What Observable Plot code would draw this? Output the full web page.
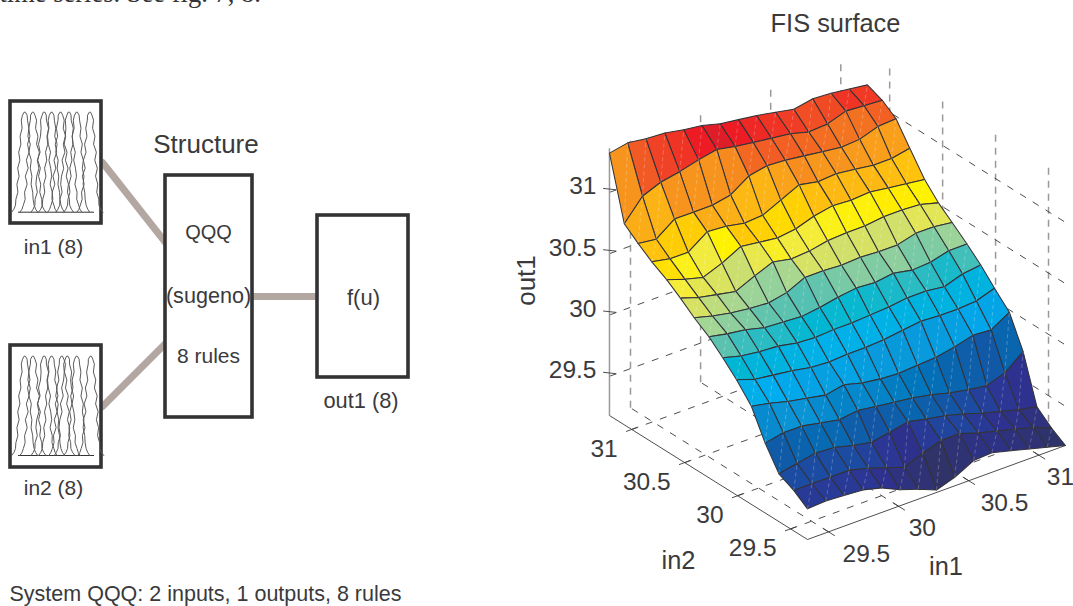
<!DOCTYPE html>
<html>
<head>
<meta charset="utf-8">
<style>html,body{margin:0;padding:0;background:#fff}svg{display:block}</style>
<script src="https://cdn.jsdelivr.net/npm/d3@7"></script>
<script src="https://cdn.jsdelivr.net/npm/@observablehq/plot@0.6"></script>
</head>
<body>
<div id="chart"></div>
<script>
// grid of the surface
const in1Grid = [29.35,29.48,29.61,29.745,29.88,30.01,30.14,30.27,30.40,30.535,30.665,30.80,30.93,31.06,31.19];
const in2Grid = [29.34,29.47,29.61,29.74,29.87,30.01,30.14,30.27,30.41,30.54,30.67,30.81,30.94,31.07,31.21];
// out1 values, one row per in2 grid value
const out0  = [29.43,29.44,29.43,29.42,29.38,29.31,29.26,29.20,29.25,29.33,29.34,29.30,29.26,29.22,29.18];
const out1  = [29.51,29.51,29.51,29.51,29.47,29.42,29.37,29.43,29.48,29.48,29.43,29.39,29.35,29.31,29.25];
const out2  = [29.57,29.60,29.63,29.62,29.58,29.55,29.58,29.61,29.58,29.55,29.51,29.46,29.42,29.38,29.35];
const out3  = [29.75,29.78,29.78,29.75,29.72,29.74,29.72,29.70,29.68,29.65,29.61,29.58,29.56,29.61,29.73];
const out4  = [29.98,29.95,29.91,29.88,29.85,29.88,29.84,29.82,29.81,29.82,29.83,29.86,29.90,29.89,29.98];
const out5  = [30.12,30.07,30.05,30.03,30.00,29.99,30.00,30.00,30.01,30.03,30.05,30.04,30.04,30.05,30.10];
const out6  = [30.23,30.19,30.17,30.16,30.13,30.12,30.13,30.13,30.14,30.15,30.17,30.17,30.15,30.20,30.22];
const out7  = [30.33,30.30,30.28,30.24,30.23,30.22,30.24,30.27,30.29,30.28,30.30,30.27,30.28,30.32,30.32];
const out8  = [30.41,30.37,30.34,30.32,30.31,30.34,30.41,30.41,30.40,30.41,30.40,30.40,30.44,30.44,30.42];
const out9  = [30.50,30.45,30.42,30.39,30.46,30.52,30.49,30.50,30.53,30.54,30.54,30.56,30.56,30.55,30.51];
const out10 = [30.58,30.53,30.49,30.55,30.63,30.61,30.59,30.61,30.66,30.69,30.68,30.69,30.67,30.65,30.63];
const out11 = [30.65,30.62,30.62,30.73,30.72,30.69,30.70,30.77,30.84,30.81,30.82,30.80,30.78,30.78,30.81];
const out12 = [30.73,30.71,30.82,30.82,30.82,30.85,30.95,30.98,30.97,30.95,30.93,30.91,30.92,30.97,30.98];
const out13 = [30.82,30.99,31.05,31.08,31.12,31.15,31.12,31.10,31.08,31.06,31.02,31.03,31.08,31.07,31.06];
const out14 = [31.32,31.35,31.33,31.32,31.29,31.27,31.23,31.21,31.19,31.16,31.13,31.16,31.15,31.13,31.11];
const outRows = [out0,out1,out2,out3,out4,out5,out6,out7,out8,out9,out10,out11,out12,out13,out14];

const in1Ticks = [29.5,30,30.5,31];
const in2Ticks = [29.5,30,30.5,31];
const outTicks = [29.5,30,30.5,31];
const in1Range = [29.35,31.19];
const in2Range = [29.34,31.21];
const outRange = [29.18,31.36];

// colour ramp read from the facets
const colorStops = [29.20,29.40,29.50,29.57,29.68,29.78,29.95,30.12,30.23,30.33,30.41,30.50,30.55,30.60,30.65,30.72,30.82,30.99,31.07,31.12,31.16];
const colorRamp  = ["#2f3368","#2e3192","#1e4aa0","#0f5ba8","#0077bc","#0a94d6","#00aeef","#00b6d3","#5cc2b0","#a3d595","#d7e264","#f5ec3a","#fff200","#ffd400","#ffc20e","#fbb017","#f7941d","#f15a24","#f03a26","#ed1c24","#d91e2a"];

// membership-function peaks in the two icons
const in1Peaks = [29.50,29.70,29.97,30.15,30.37,30.57,30.76,31.08];
const in2Peaks = [29.50,29.70,29.97,30.15,30.40,30.53,30.76,31.10];
const mfHeights = [1,.97,.92,.84,.76,.68,.6,.52,.44,.36,.28,.2,.13,.07,.03,0];
const mfLeftA  = [-0.6,-2.2,-3.4,-2.6,-4.6,-3.8,-6.0,-4.8,-7.0,-5.6,-7.8,-6.8,-8.8,-9.2,-10.8,-13];
const mfRightA = [0.7,2.4,2.8,4.2,3.2,5.6,4.2,6.6,5.6,7.2,6.4,8.0,8.4,9.4,11,13];
const mfLeftB  = [-0.7,-2.4,-2.6,-4.2,-3.0,-5.4,-3.9,-6.6,-4.8,-7.6,-5.8,-8.4,-7.8,-9.6,-11,-13];
const mfRightB = [0.6,2.0,3.6,2.6,5.0,3.6,6.4,4.8,7.4,5.6,7.8,6.8,8.8,9.0,10.8,13];
const mfLeftC  = [-0.8,-2.0,-3.6,-3.0,-3.6,-5.6,-4.0,-6.8,-5.2,-7.4,-8.2,-6.8,-9.0,-9.2,-11,-13];
const mfRightC = [0.8,2.2,2.3,4.4,3.4,4.2,6.4,4.8,6.6,7.6,6.0,8.2,7.8,9.8,11,13];

// ---- view: orthographic mapping of (in1, in2, out1) to the drawing plane
const project = (a, b, c) => ({
  x: 807 + (a - in1Range[0]) * 140.2 - (b - in2Range[0]) * 105.9,
  y: 539 - (a - in1Range[0]) * 51.1 - (b - in2Range[0]) * 66.3 - (c - outRange[0]) * 122.6
});
const seg = (p, q) => {
  const s = project(...p), e = project(...q);
  return {x1: s.x, y1: s.y, x2: e.x, y2: e.y};
};

// surface tables, back to front
const cells = [];
const diagonals = [];
const order = [];
for (let j = 0; j < 14; j++) for (let i = 0; i < 14; i++) order.push([i, j]);
order.sort((p, q) => (q[0] + q[1]) - (p[0] + p[1]));
order.forEach(([i, j], id) => {
  const v = outRows[j][i];
  const corner = (ii, jj) => project(in1Grid[ii], in2Grid[jj], outRows[jj][ii]);
  [[i,j],[i+1,j],[i+1,j+1],[i,j+1],[i,j]].forEach(([ii,jj]) => {
    const p = corner(ii, jj);
    cells.push({id, v, x: p.x, y: p.y});
  });
  const s = corner(i, j), e = corner(i + 1, j + 1);
  diagonals.push({x1: s.x, y1: s.y, x2: e.x, y2: e.y});
});

// axes tables
const [a0, a1] = in1Range, [b0, b1] = in2Range, [c0, c1] = outRange;
const wallVerticals = [
  ...in1Ticks.map(t => seg([t, b1, c0], [t, b1, c1])),
  ...in2Ticks.map(t => seg([a1, t, c0], [a1, t, c1]))
];
const dashedGrid = [
  ...in1Ticks.map(t => seg([t, b0, c0], [t, b1, c0])),
  ...in2Ticks.map(t => seg([a0, t, c0], [a1, t, c0])),
  ...outTicks.map(t => seg([a0, b1, t], [a1, b1, t])),
  ...outTicks.map(t => seg([a1, b1, t], [a1, b0, t]))
];
const solidAxes = [
  seg([a0, b0, c0], [a1, b0, c0]),
  seg([a0, b0, c0], [a0, b1, c0]),
  ...in1Ticks.map(t => seg([t, b0 + 0.05, c0], [t, b0 - 0.06, c0])),
  ...in2Ticks.map(t => seg([a0 + 0.04, t, c0], [a0 - 0.04, t, c0])),
  ...outTicks.map(t => seg([a0, b1 + 0.06, t], [a0 + 0.05, b1, t]))
];
const zAxis = [seg([a0, b1, c0], [a0, b1, c1])];

const in1LabelNudge = [14, 10, 12, 8];
const in1Labels = in1Ticks.map((t, k) => {
  const p = project(t, b0, c0);
  return {t, x: p.x + in1LabelNudge[k], y: p.y};
});
const in2Labels = in2Ticks.map(t => ({t, ...project(a0, t, c0)}));
const outLabels = outTicks.map(t => ({t, ...project(a0, b1, t)}));

// diagram tables
const boxes = [
  {x1:10,x2:101,y1:101,y2:223},
  {x1:10,x2:101,y1:345,y2:467},
  {x1:165,x2:252,y1:175,y2:417},
  {x1:317,x2:408,y1:215,y2:377}
];
const connectors = [
  {x1:102,y1:162,x2:165,y2:242},
  {x1:102,y1:406,x2:165,y2:343},
  {x1:252,y1:296,x2:317,y2:296}
];
const mfProfiles = [[mfLeftA,mfRightA],[mfLeftB,mfRightB],[mfLeftC,mfRightC]];
const mfCurves = [];
const addIcon = (peaks, name, top, base) => peaks.forEach((p, k) => {
  const cx = 18 + (p - a0) / (a1 - a0) * 76;
  const [L, R] = mfProfiles[k % 3];
  const id = name + k;
  for (let n = mfHeights.length - 1; n >= 0; n--) mfCurves.push({id, x: cx + L[n], y: base - mfHeights[n] * (base - top)});
  mfHeights.forEach((h, n) => mfCurves.push({id, x: cx + R[n], y: base - h * (base - top)}));
});
addIcon(in1Peaks, "a", 111.7, 211.7);
addIcon(in2Peaks, "b", 355.7, 455);
const mfBase = [{x1:18,x2:94,y:211.7},{x1:18,x2:94,y:455}];

const labels = [
  {t:"Structure", x:205.5, y:144, s:26},
  {t:"QQQ", x:208, y:232, s:20},
  {t:"(sugeno)", x:208, y:296, s:21.6},
  {t:"8 rules", x:208, y:356, s:21},
  {t:"f(u)", x:363, y:297, s:22},
  {t:"in1 (8)", x:53, y:247, s:21},
  {t:"in2 (8)", x:53, y:488, s:21},
  {t:"out1 (8)", x:360.5, y:401, s:21.8},
  {t:"FIS surface", x:835, y:23, s:25.4},
  {t:"in2", x:678, y:560, s:25.4},
  {t:"in1", x:945.5, y:566, s:25.4}
];
const font = "Liberation Sans";
const ink = "#3a3a3c";

const chart = Plot.plot({
  width: 1073, height: 606, margin: 0,
  style: {background: "#fff"},
  x: {domain: [0, 1073], range: [0, 1073], axis: null},
  y: {domain: [0, 606], range: [0, 606], axis: null},
  color: {type: "linear", domain: colorStops, range: colorRamp, clamp: true},
  marks: [
    // left diagram
    Plot.link(connectors, {x1:"x1",y1:"y1",x2:"x2",y2:"y2",stroke:"#b3a7a2",strokeWidth:7,strokeLinecap:"round"}),
    Plot.rect(boxes, {x1:"x1",x2:"x2",y1:"y1",y2:"y2",fill:"#fff",stroke:"#333335",strokeWidth:3.6}),
    Plot.ruleY(mfBase, {x1:"x1",x2:"x2",y:"y",stroke:"#333",strokeWidth:1}),
    Plot.line(mfCurves, {x:"x",y:"y",z:"id",stroke:"#5a5a5a",strokeWidth:1,fill:"none"}),
    // axes behind the surface
    Plot.link(wallVerticals, {x1:"x1",y1:"y1",x2:"x2",y2:"y2",stroke:"#999",strokeWidth:1.5,strokeDasharray:"7,6"}),
    Plot.link(dashedGrid, {x1:"x1",y1:"y1",x2:"x2",y2:"y2",stroke:"#3a3a3c",strokeWidth:0.9,strokeDasharray:"7,8"}),
    Plot.link(zAxis, {x1:"x1",y1:"y1",x2:"x2",y2:"y2",stroke:"#999",strokeWidth:1.5}),
    Plot.link(solidAxes, {x1:"x1",y1:"y1",x2:"x2",y2:"y2",stroke:"#3a3a3c",strokeWidth:0.9}),
    // surface
    Plot.line(cells, {x:"x",y:"y",z:"id",fill:"v",stroke:"#333338",strokeWidth:1.05,strokeLinejoin:"round"}),
    Plot.link(diagonals, {x1:"x1",y1:"y1",x2:"x2",y2:"y2",stroke:"#fff",strokeOpacity:0.35,strokeWidth:0.7,strokeDasharray:"4,3"}),
    // tick labels
    Plot.text(in1Labels, {x:"x",y:"y",text:d=>String(d.t),textAnchor:"start",dy:22,fontSize:24.5,fontFamily:font,fill:ink}),
    Plot.text(in2Labels, {x:"x",y:"y",text:d=>String(d.t),textAnchor:"end",dx:-14,dy:19.5,fontSize:24.5,fontFamily:font,fill:ink}),
    Plot.text(outLabels, {x:"x",y:"y",text:d=>String(d.t),textAnchor:"end",dx:-13,dy:-6,fontSize:24.5,fontFamily:font,fill:ink}),
    // titles
    Plot.text(labels, {x:"x",y:"y",text:"t",fontSize:"s",fontFamily:font,fill:ink}),
    Plot.text(["out1"], {x:()=>526,y:()=>280,text:d=>d,rotate:-90,fontSize:26,fontFamily:font,fill:ink}),
    Plot.text(["System QQQ: 2 inputs, 1 outputs, 8 rules"], {x:()=>9,y:()=>594,text:d=>d,textAnchor:"start",fontSize:21.5,fontFamily:font,fill:ink}),
    Plot.text(["time series. See fig. 7, 8."], {x:()=>-1,y:()=>-7,text:d=>d,textAnchor:"start",fontSize:26.5,fontFamily:"Liberation Serif",fill:"#333"})
  ]
});
document.getElementById("chart").append(chart);
</script>
</body>
</html>
